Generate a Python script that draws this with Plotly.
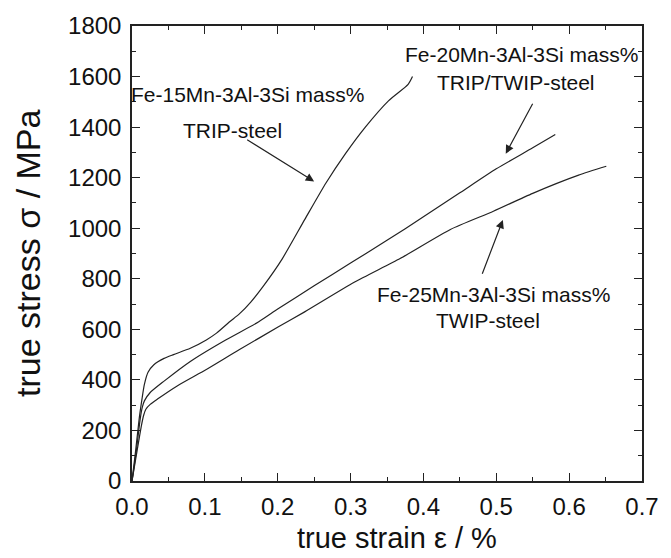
import plotly.graph_objects as go

# Fe-15Mn-3Al-3Si (TRIP-steel)
strain_15 = [0.0, 0.005, 0.010, 0.014, 0.017, 0.022, 0.030, 0.044, 0.057, 0.080, 0.102, 0.116, 0.134,
             0.147, 0.163, 0.180, 0.206, 0.237, 0.266, 0.293, 0.320, 0.352, 0.379, 0.385]
stress_15 = [0, 120, 250, 330, 382, 430, 460, 485, 500, 525, 558, 585, 630,
             660, 708, 770, 878, 1034, 1178, 1295, 1399, 1504, 1569, 1600]

# Fe-20Mn-3Al-3Si (TRIP/TWIP-steel)
strain_20 = [0.0, 0.006, 0.011, 0.014, 0.017, 0.025, 0.044, 0.080, 0.125, 0.174, 0.200, 0.250, 0.300,
             0.350, 0.400, 0.450, 0.500, 0.550, 0.581]
stress_20 = [0, 120, 240, 290, 317, 350, 395, 473, 552, 630, 680, 772, 862,
             952, 1045, 1140, 1235, 1318, 1371]

# Fe-25Mn-3Al-3Si (TWIP-steel)
strain_25 = [0.0, 0.007, 0.013, 0.016, 0.019, 0.025, 0.035, 0.062, 0.102, 0.147, 0.201, 0.237, 0.305,
             0.368, 0.437, 0.496, 0.550, 0.613, 0.651]
stress_25 = [0, 120, 220, 260, 284, 303, 324, 376, 441, 519, 610, 669, 786,
             880, 995, 1067, 1138, 1210, 1245]

x_ticks = [0.0, 0.1, 0.2, 0.3, 0.4, 0.5, 0.6, 0.7]
y_ticks = [0, 200, 400, 600, 800, 1000, 1200, 1400, 1600, 1800]

FONT = "Liberation Sans, Arial, sans-serif"
LC = "#222222"

fig = go.Figure()
for xs, ys in [(strain_15, stress_15), (strain_20, stress_20), (strain_25, stress_25)]:
    fig.add_trace(go.Scatter(x=xs, y=ys, mode="lines", line=dict(color=LC, width=1.2, shape="spline", smoothing=0.6),
                             showlegend=False, hoverinfo="skip"))

labels = [
    ("Fe-15Mn-3Al-3Si mass%", 0.1585, 1530),
    ("TRIP-steel", 0.138, 1385),
    ("Fe-20Mn-3Al-3Si mass%", 0.534, 1686),
    ("TRIP/TWIP-steel", 0.527, 1577),
    ("Fe-25Mn-3Al-3Si mass%", 0.496, 739),
    ("TWIP-steel", 0.488, 634),
]
for txt, x, y in labels:
    fig.add_annotation(x=x, y=y, xref="x", yref="y", text=txt, showarrow=False,
                       font=dict(family=FONT, size=21, color="#111"))

arrows = [
    ((0.156, 1354), (0.250, 1185)),
    ((0.551, 1498), (0.513, 1295)),
    ((0.480, 814), (0.509, 1033)),
]
for (tx, ty), (hx, hy) in arrows:
    fig.add_annotation(x=hx, y=hy, ax=tx, ay=ty, xref="x", yref="y", axref="x", ayref="y",
                       text="", showarrow=True, arrowhead=2, arrowsize=1.4, arrowwidth=1.2,
                       arrowcolor=LC)

fig.add_annotation(x=-0.205, y=0.5, xref="paper", yref="paper", xanchor="center", yanchor="middle",
                   text="true stress σ / MPa", textangle=-90, showarrow=False,
                   font=dict(family=FONT, size=34, color="#111"))
fig.add_annotation(x=0.52, y=-0.125, xref="paper", yref="paper", xanchor="center", yanchor="middle",
                   text="true strain ε / %", showarrow=False,
                   font=dict(family=FONT, size=29, color="#111"))

axis_common = dict(showgrid=False, zeroline=False, showline=True, linecolor=LC, linewidth=1.5,
                   mirror="ticks", ticks="inside", ticklen=8, tickwidth=1.3, tickcolor=LC,
                   tickfont=dict(family=FONT, size=24, color="#111"))
fig.update_xaxes(range=[0, 0.7], tickvals=x_ticks, ticktext=[f"{v:.1f}" for v in x_ticks],
                 minor=dict(dtick=0.05, ticks="inside", ticklen=4, tickcolor=LC, tickwidth=1.2),
                 ticklabelstandoff=3, **axis_common)
fig.update_yaxes(range=[0, 1800], tickvals=y_ticks, ticktext=[str(v) for v in y_ticks],
                 minor=dict(dtick=100, ticks="inside", ticklen=4, tickcolor=LC, tickwidth=1.2),
                 ticklabelstandoff=4, **axis_common)

fig.update_layout(width=671, height=558, margin=dict(l=132, r=19, t=21, b=77),
                  paper_bgcolor="white", plot_bgcolor="white")

fig.write_html("out.html")
